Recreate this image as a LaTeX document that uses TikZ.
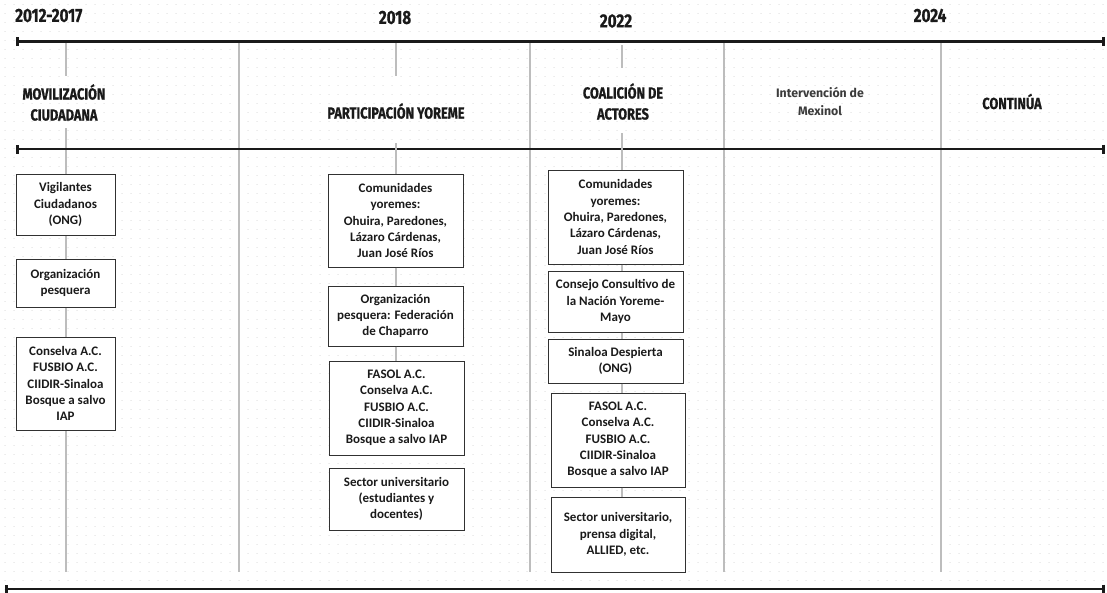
\documentclass[tikz,border=0pt]{standalone}
\usepackage{fontspec}
\usepackage{tikz}
\usetikzlibrary{arrows.meta}
\newfontfamily\headfont{Fira Sans}[FakeStretch=0.8, FakeBold=0.8]
\newfontfamily\boxfont{Carlito}
\newfontfamily\mexfont{Fira Sans}
\definecolor{dot_gray}{HTML}{E2E2E2}
\definecolor{line_gray}{HTML}{BDBDBD}
\definecolor{ink}{HTML}{1A1A1A}

\tikzset{
  timeline/.style={ink, line width=2.6pt, {Bar[width=9pt]}-{Bar[width=9pt]}},
  colline/.style={line_gray, line width=2pt},
  year/.style={font=\headfont\bfseries\fontsize{19}{22}\selectfont, text=ink, inner sep=0pt},
  stage/.style={font=\headfont\bfseries\fontsize{16}{21}\selectfont, text=ink, align=center, inner sep=0pt},
  box/.style={draw=ink!90, line width=1pt, fill=white, align=center, inner sep=2pt,
    font=\boxfont\bfseries\fontsize{13}{16.3}\selectfont, text=ink}
}

\begin{document}
\begin{tikzpicture}[x=1pt, y=-1pt]
    \useasboundingbox (0,0) rectangle (1107,592);
    \fill[white] (0,0) rectangle (1107,592);
    % dotted paper
    \foreach \y in {4.5,13.5,...,590}
      \draw[dot_gray, line width=1.5pt, line cap=round, dash pattern=on 0.1pt off 8.9pt] (5,\y) -- (1107,\y);

    % period separators
    \foreach \x in {239,530,724,941}
      \draw[colline] (\x,42) -- (\x,572);

    % column spines
    \coordinate (c1a) at (65.5,42);
    \coordinate (c1b) at (65.5,76);
    \coordinate (c1c) at (65.5,128);
    \coordinate (c1d) at (65.5,572);
    \coordinate (c2a) at (395.5,42);
    \coordinate (c2b) at (395.5,76);
    \coordinate (c2c) at (395.5,143);
    \coordinate (c3a) at (622,45);
    \coordinate (c3b) at (622,68);
    \coordinate (c3c) at (622,133);
    \draw[colline] (c1a) -- (c1b);
    \draw[colline] (c1c) -- (c1d);
    \draw[colline] (c2a) -- (c2b);
    \draw[colline] (c3a) -- (c3b);

    % time axes
    \coordinate (tl) at (16,41.7);
    \coordinate (tr) at (1105,41.7);
    \coordinate (ml) at (16,149);
    \coordinate (mr) at (1105,149);
    \coordinate (bl) at (5,589);
    \coordinate (br) at (1105,589);
    \draw[timeline] (tl) -- (tr);
    \draw[timeline] (ml) -- (mr);
    \draw[timeline] (bl) -- (br);

    % years
    \node[year, anchor=west] (y1) at (15,15.5) {2012-2017};
    \node[year] (y2) at (395,17.5) {2018};
    \node[year] (y3) at (616,21) {2022};
    \node[year] (y4) at (930,15.5) {2024};

    % stages
    \node[stage] (mov) at (64,102.5) {MOVILIZACIÓN\\CIUDADANA};
    \node[stage] (part) at (396,111) {PARTICIPACIÓN YOREME};
    \node[stage] (coal) at (623,101.5) {COALICIÓN DE\\ACTORES};
    \node[font=\mexfont\bfseries\fontsize{12.3}{18}\selectfont, text=ink!85, align=center, inner sep=0pt] (mex) at (820,101) {Intervención de\\Mexinol};
    \node[stage] (cont) at (1012,101.5) {CONTINÚA};

    % 2012-2017
    \node[box, minimum width=99, minimum height=61] (vig) at (65.5,204.5) {Vigilantes\\Ciudadanos\\(ONG)};
    \node[box, minimum width=99, minimum height=48] (org1) at (65.5,283) {Organización\\pesquera};
    \node[box, minimum width=99, minimum height=93] (cons1) at (65.5,383.5) {Conselva A.C.\\FUSBIO A.C.\\CIIDIR-Sinaloa\\Bosque a salvo\\IAP};

    % 2018
    \node[box, minimum width=135, minimum height=93] (com2) at (395.5,220.5) {Comunidades\\yoremes:\\Ohuira, Paredones,\\Lázaro Cárdenas,\\Juan José Ríos};
    \node[box, minimum width=135, minimum height=60] (org2) at (395.5,316) {Organización\\pesquera: Federación\\de Chaparro};
    \node[box, minimum width=135, minimum height=94] (fas2) at (396.5,408) {FASOL A.C.\\Conselva A.C.\\FUSBIO A.C.\\CIIDIR-Sinaloa\\Bosque a salvo IAP};
    \node[box, minimum width=135, minimum height=62] (sec2) at (396.5,499) {Sector universitario\\(estudiantes y\\docentes)};

    % 2022
    \node[box, minimum width=135, minimum height=94] (com3) at (615.5,217) {Comunidades\\yoremes:\\Ohuira, Paredones,\\Lázaro Cárdenas,\\Juan José Ríos};
    \node[box, minimum width=135, minimum height=61] (cons3) at (615.5,301.5) {Consejo Consultivo de\\la Nación Yoreme-\\Mayo};
    \node[box, minimum width=135, minimum height=44] (sin3) at (615.5,361) {Sinaloa Despierta\\(ONG)};
    \node[box, minimum width=134, minimum height=94] (fas3) at (618,440) {FASOL A.C.\\Conselva A.C.\\FUSBIO A.C.\\CIIDIR-Sinaloa\\Bosque a salvo IAP};
    \node[box, minimum width=134, minimum height=75] (sec3) at (618,534.5) {Sector universitario,\\prensa digital,\\ALLIED, etc.};

    % spines between the boxes
    \draw[colline] (c2c) -- (c2c |- com2.north);
    \draw[colline] (c2c |- com2.south) -- (c2c |- org2.north);
    \draw[colline] (c2c |- org2.south) -- (c2c |- fas2.north);
    \draw[colline] (c3c) -- (c3c |- com3.north);
    \draw[colline] (c3c |- com3.south) -- (c3c |- cons3.north);
    \draw[colline] (c3c |- cons3.south) -- (c3c |- sin3.north);
    \draw[colline] (c3c |- sin3.south) -- (c3c |- fas3.north);
    \draw[colline] (c3c |- fas3.south) -- (c3c |- sec3.north);
  \end{tikzpicture}
\end{document}
